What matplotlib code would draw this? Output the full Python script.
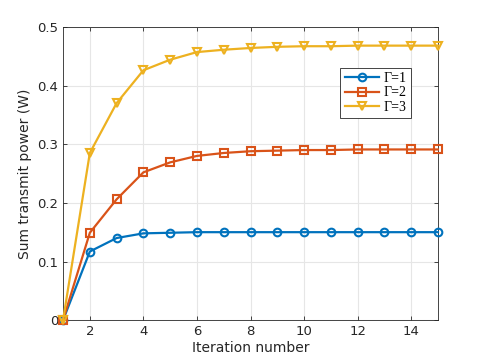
import numpy as np
import matplotlib
matplotlib.use("Agg")
import matplotlib.pyplot as plt

it = np.arange(1, 16)
p1 = [0, 0.117, 0.140, 0.148, 0.149, 0.150, 0.150, 0.150, 0.150, 0.150, 0.150, 0.150, 0.150, 0.150, 0.150]
p2 = [0, 0.149, 0.206, 0.252, 0.269, 0.280, 0.285, 0.288, 0.289, 0.290, 0.290, 0.291, 0.291, 0.291, 0.291]
p3 = [0, 0.285, 0.370, 0.426, 0.444, 0.457, 0.461, 0.464, 0.466, 0.467, 0.467, 0.468, 0.468, 0.468, 0.468]
labels = ["Γ=1", "Γ=2", "Γ=3"]

plt.rcParams['font.family'] = ['DejaVu Sans']
fig = plt.figure(figsize=(4.85, 3.63), dpi=100)
ax = fig.add_axes([0.130, 0.118, 0.773, 0.808])

ax.plot(it, p1, '-o', color='#0072BD', lw=1.6, ms=5.5, mew=1.5, mfc='none', label=labels[0], clip_on=False, zorder=3)
ax.plot(it, p2, '-s', color='#D95319', lw=1.6, ms=5.5, mew=1.5, mfc='none', label=labels[1], clip_on=False, zorder=3)
ax.plot(it, p3, '-v', color='#EDB120', lw=1.6, ms=6, mew=1.5, mfc='none', label=labels[2], clip_on=False, zorder=3)

ax.set_xlim(1, 15)
ax.set_ylim(0, 0.5)
ax.set_xticks([2, 4, 6, 8, 10, 12, 14])
ax.set_yticks([0, 0.1, 0.2, 0.3, 0.4, 0.5])
ax.set_yticklabels(['0', '0.1', '0.2', '0.3', '0.4', '0.5'])
ax.grid(True, color='#e6e6e6', lw=0.8)
ax.set_axisbelow(True)
for s in ax.spines.values():
    s.set_color('#262626')
    s.set_linewidth(0.6)
ax.tick_params(direction='in', length=3, width=0.6, colors='#262626', labelsize=9.5,
               top=True, right=True)
ax.set_xlabel('Iteration number', fontsize=10, color='#262626', labelpad=2)
ax.set_ylabel('Sum transmit power (W)', fontsize=10, color='#262626', labelpad=4)

leg = ax.legend(loc='upper left', bbox_to_anchor=(0.74, 0.86), fancybox=False,
                edgecolor='#262626', framealpha=1, borderpad=0.3, labelspacing=0.1,
                handlelength=2.5, handletextpad=0.3, borderaxespad=0,
                prop={'family': 'Liberation Serif', 'size': 10})
leg.get_frame().set_linewidth(0.6)

fig.savefig('out.png', dpi=100)
